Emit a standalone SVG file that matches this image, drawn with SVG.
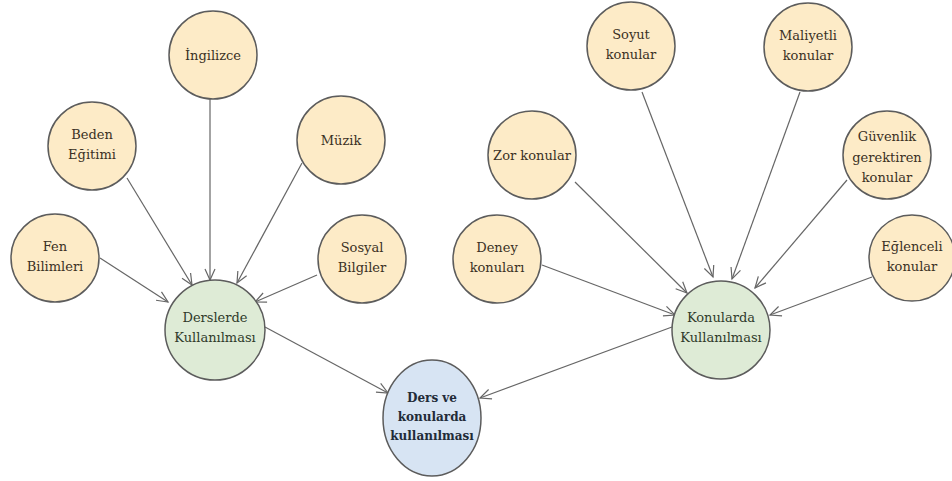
<svg xmlns="http://www.w3.org/2000/svg" width="952" height="481" viewBox="0 0 952 481">
<style>
  .y { fill: #fdebc7; stroke: #5c5c5c; stroke-width: 1.5; }
  .g { fill: #deebd6; stroke: #5c5c5c; stroke-width: 1.5; }
  .b { fill: #d7e4f3; stroke: #5c5c5c; stroke-width: 1.5; }
  text { font-family: 'DejaVu Serif', serif; font-size: 13px; fill: #3a3024; text-anchor: middle; }
  .gt { fill: #2f3a2a; }
  .bt { font-weight: bold; font-size: 12px; fill: #222b38; }
  .e line { stroke: #666; stroke-width: 1.2; fill: none; }
</style>
<defs>
  <marker id="arr" markerUnits="userSpaceOnUse" markerWidth="14" markerHeight="12" refX="12" refY="6" orient="auto">
    <path d="M1,1 L12,6 L1,11" fill="none" stroke="#666" stroke-width="1.2"/>
  </marker>
</defs>
<rect width="952" height="481" fill="#ffffff"/>
<g class="e" id="connectors">
  <line x1="100" y1="258" x2="168" y2="302" marker-end="url(#arr)"/>
  <line x1="127" y1="178" x2="192" y2="285" marker-end="url(#arr)"/>
  <line x1="210" y1="99" x2="210" y2="280" marker-end="url(#arr)"/>
  <line x1="302" y1="163" x2="237" y2="283" marker-end="url(#arr)"/>
  <line x1="317" y1="275" x2="255" y2="302" marker-end="url(#arr)"/>
  <line x1="265" y1="327" x2="388" y2="393" marker-end="url(#arr)"/>
  <line x1="642" y1="92" x2="713" y2="277" marker-end="url(#arr)"/>
  <line x1="800" y1="92" x2="732" y2="279" marker-end="url(#arr)"/>
  <line x1="575" y1="182" x2="687" y2="293" marker-end="url(#arr)"/>
  <line x1="847" y1="180" x2="755" y2="288" marker-end="url(#arr)"/>
  <line x1="542" y1="265" x2="675" y2="315" marker-end="url(#arr)"/>
  <line x1="872" y1="277" x2="770" y2="315" marker-end="url(#arr)"/>
  <line x1="672" y1="327" x2="480" y2="398" marker-end="url(#arr)"/>
</g>
<g id="n-ingilizce"><circle class="y" cx="213" cy="55" r="44"/><text x="213" y="60">İngilizce</text></g>
<g id="n-beden"><circle class="y" cx="92" cy="146" r="44"/><text x="92" y="139">Beden</text><text x="92" y="159">Eğitimi</text></g>
<g id="n-muzik"><circle class="y" cx="341" cy="140" r="44"/><text x="341" y="145">Müzik</text></g>
<g id="n-fen"><circle class="y" cx="55" cy="258" r="44"/><text x="55" y="251">Fen</text><text x="55" y="271">Bilimleri</text></g>
<g id="n-sosyal"><circle class="y" cx="362" cy="259" r="44"/><text x="362" y="252">Sosyal</text><text x="362" y="272">Bilgiler</text></g>
<g id="n-derslerde"><circle class="g" cx="215" cy="330" r="50"/><text class="gt" x="215" y="322">Derslerde</text><text class="gt" x="215" y="342">Kullanılması</text></g>
<g id="n-soyut"><circle class="y" cx="631" cy="46" r="44"/><text x="631" y="39">Soyut</text><text x="631" y="59">konular</text></g>
<g id="n-maliyetli"><circle class="y" cx="808" cy="47" r="44"/><text x="808" y="40">Maliyetli</text><text x="808" y="60">konular</text></g>
<g id="n-zor"><circle class="y" cx="532" cy="155" r="44"/><text x="532" y="160">Zor konular</text></g>
<g id="n-guvenlik"><circle class="y" cx="887" cy="155" r="44"/><text x="887" y="141">Güvenlik</text><text x="887" y="162">gerektiren</text><text x="887" y="182">konular</text></g>
<g id="n-deney"><circle class="y" cx="497" cy="259" r="44"/><text x="497" y="252">Deney</text><text x="497" y="272">konuları</text></g>
<g id="n-eglenceli"><circle class="y" cx="912" cy="258" r="43"/><text x="912" y="251">Eğlenceli</text><text x="912" y="271">konular</text></g>
<g id="n-konularda"><circle class="g" cx="721" cy="330" r="49"/><text class="gt" x="721" y="322">Konularda</text><text class="gt" x="721" y="342">Kullanılması</text></g>
<g id="n-dersve"><ellipse class="b" cx="432" cy="418" rx="49" ry="58"/><text class="bt" x="432" y="402">Ders ve</text><text class="bt" x="432" y="421">konularda</text><text class="bt" x="432" y="440">kullanılması</text></g>
</svg>
